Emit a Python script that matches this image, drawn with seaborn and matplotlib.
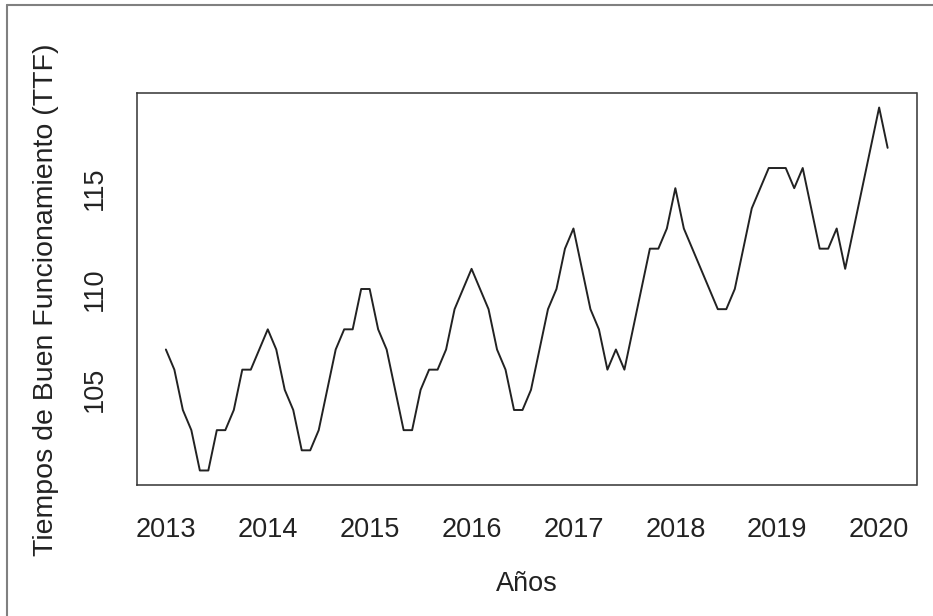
import numpy as np
import pandas as pd
import matplotlib
matplotlib.use("Agg")
import matplotlib.pyplot as plt
from matplotlib.lines import Line2D
import seaborn as sns

# Monthly series starting January 2013 (R ts, frequency 12)
start_year = 2013
ttf_values = [
    107, 106, 104, 103, 101, 101, 103, 103, 104, 106, 106, 107,   # 2013
    108, 107, 105, 104, 102, 102, 103, 105, 107, 108, 108, 110,   # 2014
    110, 108, 107, 105, 103, 103, 105, 106, 106, 107, 109, 110,   # 2015
    111, 110, 109, 107, 106, 104, 104, 105, 107, 109, 110, 112,   # 2016
    113, 111, 109, 108, 106, 107, 106, 108, 110, 112, 112, 113,   # 2017
    115, 113, 112, 111, 110, 109, 109, 110, 112, 114, 115, 116,   # 2018
    116, 116, 115, 116, 114, 112, 112, 113, 111, 113, 115, 117,   # 2019
    119, 117,                                                     # 2020
]
x_ticks = [2013, 2014, 2015, 2016, 2017, 2018, 2019, 2020]
y_ticks = [105, 110, 115]
x_label = "Años"
y_label = "Tiempos de Buen Funcionamiento (TTF)"

time = start_year + np.arange(len(ttf_values)) / 12.0
df = pd.DataFrame({"time": time, "ttf": ttf_values})

sns.set_style("white")
plt.rcParams["font.family"] = ["Liberation Sans", "DejaVu Sans"]

W, H = 933, 616
fig = plt.figure(figsize=(W / 100, H / 100), dpi=100)
fig.patch.set_facecolor("white")

L, R, T, B = 137, 916.5, 93, 485
ax = fig.add_axes([L / W, 1 - B / H, (R - L) / W, (B - T) / H])

sns.lineplot(data=df, x="time", y="ttf", ax=ax, color="#222222", linewidth=1.4)

# R-style 4% axis extension
xr = time.max() - time.min()
ax.set_xlim(time.min() - 0.04 * xr, time.max() + 0.04 * xr)
yr = max(ttf_values) - min(ttf_values)
ax.set_ylim(min(ttf_values) - 0.04 * yr, max(ttf_values) + 0.04 * yr)

ax.set_xticks(x_ticks)
ax.set_xticklabels([str(v) for v in x_ticks], fontsize=19.5)
ax.set_yticks(y_ticks)
ax.set_yticklabels([str(v) for v in y_ticks], rotation=90, va="center", fontsize=19.5)

for s in ax.spines.values():
    s.set_color("#333333")
    s.set_linewidth(1.1)

ax.tick_params(axis="both", which="both", direction="out", length=10,
               width=1.0, color="#333333", labelcolor="#222222")
ax.tick_params(axis="x", pad=13)
ax.tick_params(axis="y", pad=11)

ax.set_xlabel(x_label, fontsize=19.5, color="#222222")
ax.set_ylabel(y_label, fontsize=20.5, color="#222222")
ax.xaxis.set_label_coords(0.5, -(584 - B) / (B - T), transform=ax.transAxes)
ax.xaxis.label.set_va("center")
ax.yaxis.set_label_coords(-(L - 46) / (R - L), (B - 300) / (B - T), transform=ax.transAxes)
ax.yaxis.label.set_va("center")
ax.yaxis.label.set_rotation_mode("default")
ax.grid(False)

# outer frame (top and left edges visible in the reference)
fig.add_artist(Line2D([7 / W, 1], [1 - 4.5 / H, 1 - 4.5 / H], transform=fig.transFigure,
                      color="#808080", linewidth=1.5))
fig.add_artist(Line2D([7 / W, 7 / W], [0, 1 - 4.5 / H], transform=fig.transFigure,
                      color="#808080", linewidth=1.5))

fig.savefig("out.png", dpi=100, facecolor="white")
